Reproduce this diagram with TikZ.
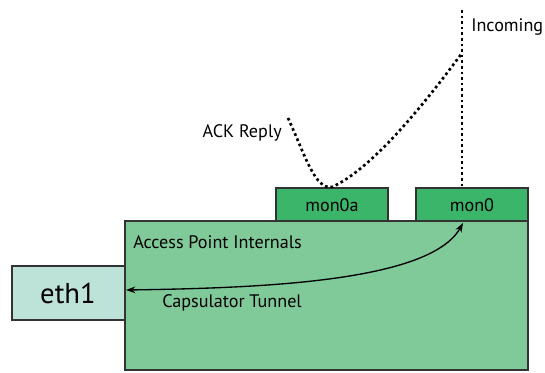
\documentclass[tikz,border=0pt]{standalone}
\usepackage{fontspec}
\setmainfont{PT Sans}
\usetikzlibrary{arrows.meta}
\definecolor{boxgreen}{HTML}{80C998}
\definecolor{mongreen}{HTML}{3BB56A}
\definecolor{ethcol}{HTML}{BDE3D8}
\definecolor{edgegray}{HTML}{333333}
\begin{document}
\begin{tikzpicture}[x=0.75pt,y=-0.75pt,
  boxstyle/.style={draw=edgegray,line width=1.5pt},
  lbl/.style={font=\fontsize{13.6}{15}\selectfont,inner sep=0pt},
  dotline/.style={line width=2pt,dash pattern=on 2pt off 2.2pt},
  tunnel/.style={line width=1pt,{Stealth[length=7pt,width=5pt]}-{Stealth[length=7pt,width=5pt]}}]
\useasboundingbox (0,0) rectangle (545,372);
% boxes
\path[boxstyle,fill=mongreen] (276,188) rectangle (388,221);
\path[boxstyle,fill=mongreen] (416,188) rectangle (528,221);
\path[boxstyle,fill=boxgreen] (125,221) rectangle (528,370);
\path[boxstyle,fill=ethcol] (12,266) rectangle (125,320);
\node[lbl] (mon0a) at (332,205) {mon0a};
\node[lbl] (mon0) at (472,205) {mon0};
\node[font=\fontsize{21.5}{23}\selectfont,inner sep=0pt] (eth1) at (68,293) {eth1};
\node[lbl,anchor=west] (api) at (133,242) {Access Point Internals};
\node[lbl,anchor=west] (cap) at (162,303) {Capsulator Tunnel};
\node[lbl,anchor=east] (ack) at (282,133) {ACK Reply};
\node[lbl,anchor=west] (inc) at (471,27) {Incoming};
% connector anchors
\coordinate (ethR) at (126,290);
\coordinate (monB) at (463,223);
\coordinate (mon0top) at (462,188);
\coordinate (inctop) at (462,10);
\coordinate (ackstart) at (288,118);
\coordinate (bottomV) at (332,187);
\coordinate (turn) at (462,53);
\draw[tunnel] (ethR) .. controls (260,288) and (430,282) .. (monB);
\draw[dotline] (inctop) -- (mon0top);
\draw[dotline] (ackstart) .. controls (305,155) and (315,190) .. (bottomV) .. controls (370,170) and (420,110) .. (turn);
\end{tikzpicture}
\end{document}
